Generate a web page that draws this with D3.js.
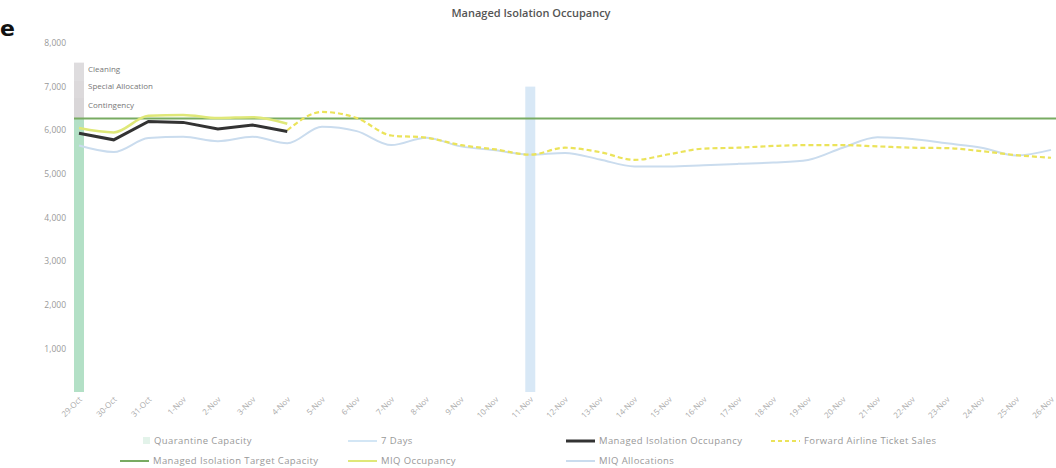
<!DOCTYPE html>
<html>
<head>
<meta charset="utf-8">
<script src="https://cdn.jsdelivr.net/npm/d3@7"></script>
<style>
  html, body { margin: 0; padding: 0; background: #fff; }
  svg { display: block; font-family: "Open Sans", "Liberation Sans", sans-serif; }
</style>
</head>
<body>
<svg id="chart" width="1056" height="468"></svg>
<script>
// ---- data ----
const categories = ["29-Oct","30-Oct","31-Oct","1-Nov","2-Nov","3-Nov","4-Nov","5-Nov","6-Nov","7-Nov",
  "8-Nov","9-Nov","10-Nov","11-Nov","12-Nov","13-Nov","14-Nov","15-Nov","16-Nov","17-Nov",
  "18-Nov","19-Nov","20-Nov","21-Nov","22-Nov","23-Nov","24-Nov","25-Nov","26-Nov"];
const yTicks = [1000,2000,3000,4000,5000,6000,7000,8000];

// stacked capacity column on the first date
const quarantineCapacity = 6280;
const contingency = 480;
const specialAllocation = 370;
const cleaning = 420;
// 7 days marker column
const sevenDaysCategory = "11-Nov";
const sevenDaysValue = 7000;

const managedIsolationOccupancy = [5930,5780,6200,6180,6030,6120,5970];
const miqOccupancy = [6050,5950,6330,6350,6280,6300,6150];
const forwardSalesStart = 6;
const forwardAirlineTicketSales = [6000,6420,6280,5880,5830,5660,5560,5440,5600,5500,5320,5450,5580,5600,
  5640,5660,5660,5630,5600,5590,5520,5430,5370];
const targetCapacity = 6270;
const miqAllocations = [5650,5500,5820,5850,5750,5850,5700,6080,5980,5660,5830,5630,5540,5440,5480,5330,
  5170,5170,5200,5230,5260,5320,5600,5840,5800,5700,5600,5420,5550];

// ---- chart ----
const svg = d3.select("#chart");
const x = d3.scalePoint().domain(categories).range([79, 1051]);
const y = d3.scaleLinear().domain([0, 8000]).range([392, 43]);

// fragment of the surrounding page at left
svg.append("text").attr("x", 0).attr("y", 36).attr("font-size", 22).attr("font-weight", "bold")
  .attr("fill", "#111").attr("font-family", "DejaVu Sans, sans-serif").text("e");

// title
svg.append("text").attr("x", 531).attr("y", 17).attr("text-anchor", "middle")
  .attr("font-size", 11).attr("font-weight", 600).attr("fill", "#555")
  .text("Managed Isolation Occupancy");

// y axis
const yAxis = svg.append("g").attr("transform", "translate(71,0)")
  .call(d3.axisLeft(y).tickValues(yTicks).tickSize(0).tickPadding(5).tickFormat(d3.format(",")));
yAxis.select(".domain").remove();
yAxis.selectAll("text").attr("fill", "#999").attr("font-size", 8.5).attr("font-family", "Open Sans, sans-serif");

// x axis
const xAxis = svg.append("g").attr("transform", "translate(0,392)")
  .call(d3.axisBottom(x).tickSize(0).tickPadding(0));
xAxis.select(".domain").remove();
xAxis.selectAll("text")
  .attr("fill", "#aaa").attr("font-size", 8).attr("font-family", "Open Sans, sans-serif")
  .attr("text-anchor", "end").attr("dy", 0)
  .attr("transform", "translate(3,8) rotate(-45)");

// stacked column at first category
const barW = 10;
const c0 = categories[0];
const stack = [
  {name: "Quarantine Capacity", v0: 0, v1: quarantineCapacity, color: "#b3e0c6"},
  {name: "Contingency", v0: quarantineCapacity, v1: quarantineCapacity + contingency, color: "#d9d6d8"},
  {name: "Special Allocation", v0: quarantineCapacity + contingency, v1: quarantineCapacity + contingency + specialAllocation, color: "#dcd9db"},
  {name: "Cleaning", v0: quarantineCapacity + contingency + specialAllocation, v1: quarantineCapacity + contingency + specialAllocation + cleaning, color: "#dedcde"}
];
svg.append("g").selectAll("rect").data(stack).join("rect")
  .attr("x", x(c0) - barW/2).attr("width", barW)
  .attr("y", d => y(d.v1)).attr("height", d => y(d.v0) - y(d.v1))
  .attr("fill", d => d.color);
svg.append("g").selectAll("text").data(stack.slice(1)).join("text")
  .attr("x", x(c0) + barW/2 + 4)
  .attr("y", d => y((d.v0 + d.v1)/2))
  .attr("font-size", 8).attr("fill", "#777")
  .text(d => d.name);

// 7 days column
svg.append("rect").attr("x", x(sevenDaysCategory) - barW/2).attr("width", barW)
  .attr("y", y(sevenDaysValue)).attr("height", y(0) - y(sevenDaysValue))
  .attr("fill", "#d8e8f6");

// target capacity line
svg.append("line").attr("x1", 74).attr("x2", 1056)
  .attr("y1", y(targetCapacity)).attr("y2", y(targetCapacity))
  .attr("stroke", "#78ab62").attr("stroke-width", 2);

const lineSmooth = d3.line().x(d => x(categories[d.i])).y(d => y(d.v)).curve(d3.curveMonotoneX);
const lineLin = d3.line().x(d => x(categories[d.i])).y(d => y(d.v));
const toPts = (arr, start = 0) => arr.map((v, i) => ({i: i + start, v}));

// MIQ allocations
svg.append("path").attr("d", lineSmooth(toPts(miqAllocations)))
  .attr("fill", "none").attr("stroke", "#cadcee").attr("stroke-width", 2);

// MIQ occupancy
svg.append("path").attr("d", lineSmooth(toPts(miqOccupancy)))
  .attr("fill", "none").attr("stroke", "#dfe878").attr("stroke-width", 2.5);

// forward airline ticket sales
svg.append("path").attr("d", lineSmooth(toPts(forwardAirlineTicketSales, forwardSalesStart)))
  .attr("fill", "none").attr("stroke", "#ebe35a").attr("stroke-width", 2.2)
  .attr("stroke-dasharray", "5,3");

// managed isolation occupancy
svg.append("path").attr("d", lineLin(toPts(managedIsolationOccupancy)))
  .attr("fill", "none").attr("stroke", "#333").attr("stroke-width", 3);

// legend
const legend = [
  {name: "Quarantine Capacity", x: 140, y: 441, type: "rect", color: "#e3f3ea"},
  {name: "7 Days", x: 348, y: 441, type: "line", color: "#d3e6f5", w: 2},
  {name: "Managed Isolation Occupancy", x: 566, y: 441, type: "line", color: "#333", w: 3},
  {name: "Forward Airline Ticket Sales", x: 771, y: 441, type: "dash", color: "#ebe35a", w: 2},
  {name: "Managed Isolation Target Capacity", x: 120, y: 461, type: "line", color: "#78ab62", w: 2},
  {name: "MIQ Occupancy", x: 348, y: 461, type: "line", color: "#dfe878", w: 2},
  {name: "MIQ Allocations", x: 566, y: 461, type: "line", color: "#cadcee", w: 2}
];
const lg = svg.append("g").selectAll("g").data(legend).join("g");
lg.each(function(d) {
  const g = d3.select(this);
  if (d.type === "rect") {
    g.append("rect").attr("x", d.x + 3).attr("y", d.y - 4).attr("width", 7).attr("height", 7).attr("fill", d.color);
  } else {
    g.append("line").attr("x1", d.x).attr("x2", d.x + 29).attr("y1", d.y).attr("y2", d.y)
      .attr("stroke", d.color).attr("stroke-width", d.w)
      .attr("stroke-dasharray", d.type === "dash" ? "4,3" : null);
  }
  g.append("text").attr("x", d.type === "rect" ? d.x + 14 : d.x + 33).attr("y", d.y + 3)
    .attr("font-size", 9.5).attr("letter-spacing", 0.4).attr("fill", "#999").text(d.name);
});
</script>
</body>
</html>
